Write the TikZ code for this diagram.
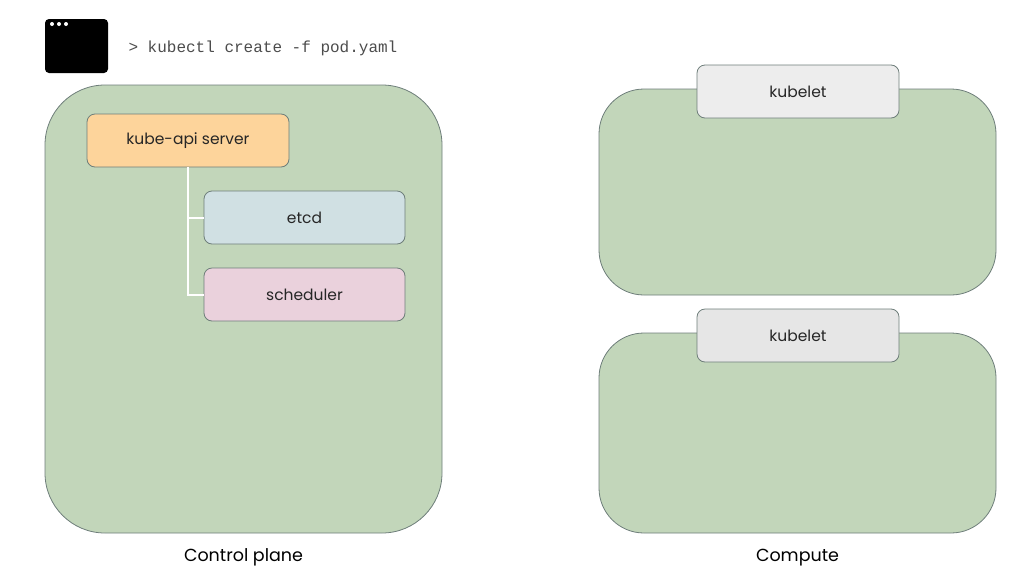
\documentclass[tikz,border=0pt]{standalone}
\usepackage{fontspec}
\setmainfont{Poppins}
\setmonofont{Liberation Mono}
\definecolor{planegreen}{HTML}{C2D6BA}
\definecolor{edgegray}{HTML}{6E7E7A}
\definecolor{apiorange}{HTML}{FDD49B}
\definecolor{etcdblue}{HTML}{D0E0E3}
\definecolor{schedpink}{HTML}{EAD1DC}
\definecolor{kubeletgray}{HTML}{EDEDED}
\tikzset{
    plane/.style={draw=edgegray, fill=planegreen, line width=0.8pt, minimum width=397pt},
    part/.style={draw=edgegray, line width=0.8pt, rounded corners=8pt, minimum width=202pt, minimum height=53pt, font=\fontsize{15.5}{18}\selectfont, text=black!85},
    caption/.style={font=\fontsize{17.5}{20}\selectfont, text=black}
}
\begin{document}
\begin{tikzpicture}[x=1pt, y=-1pt]
    \useasboundingbox (0,0) rectangle (1024,576);
    % terminal
    \node[fill=black, rounded corners=4pt, minimum width=63pt, minimum height=54pt] (term) at (76.5,46) {};
    \foreach \dx in {0,7,14} {
        \fill[white] (52+\dx,24) circle(2pt);
    }
    \node[anchor=west, font=\ttfamily\fontsize{16}{18}\selectfont, text=black!70] (cmd) at (125,48.5) {> kubectl create -f pod.yaml};
    % control plane
    \node[plane, rounded corners=60pt, minimum height=448pt] (control) at (243.5,309) {};
    \node[part, fill=apiorange] (api) at (188,140.5) {kube-api server};
    \node[part, fill=etcdblue, minimum width=201pt] (etcd) at (304.5,217.5) {etcd};
    \node[part, fill=schedpink, minimum width=201pt] (sched) at (304.5,294.5) {scheduler};
    \draw[white, line width=2pt] (api.south) -- (api.south |- sched.west) -- (sched.west);
    \draw[white, line width=2pt] (api.south |- etcd.west) -- (etcd.west);
    % compute
    \node[plane, rounded corners=45pt, minimum height=206pt] (worker1) at (797.5,192) {};
    \node[part, fill=kubeletgray] (kubelet1) at (798,91.5) {kubelet};
    \node[plane, rounded corners=45pt, minimum height=200pt] (worker2) at (797.5,433) {};
    \node[part, fill=kubeletgray!97!black] (kubelet2) at (798,335.5) {kubelet};
    % labels
    \node[caption] (controllabel) at (243.5,557.5) {Control plane};
    \node[caption] (computelabel) at (797.5,557.5) {Compute};
\end{tikzpicture}
\end{document}
